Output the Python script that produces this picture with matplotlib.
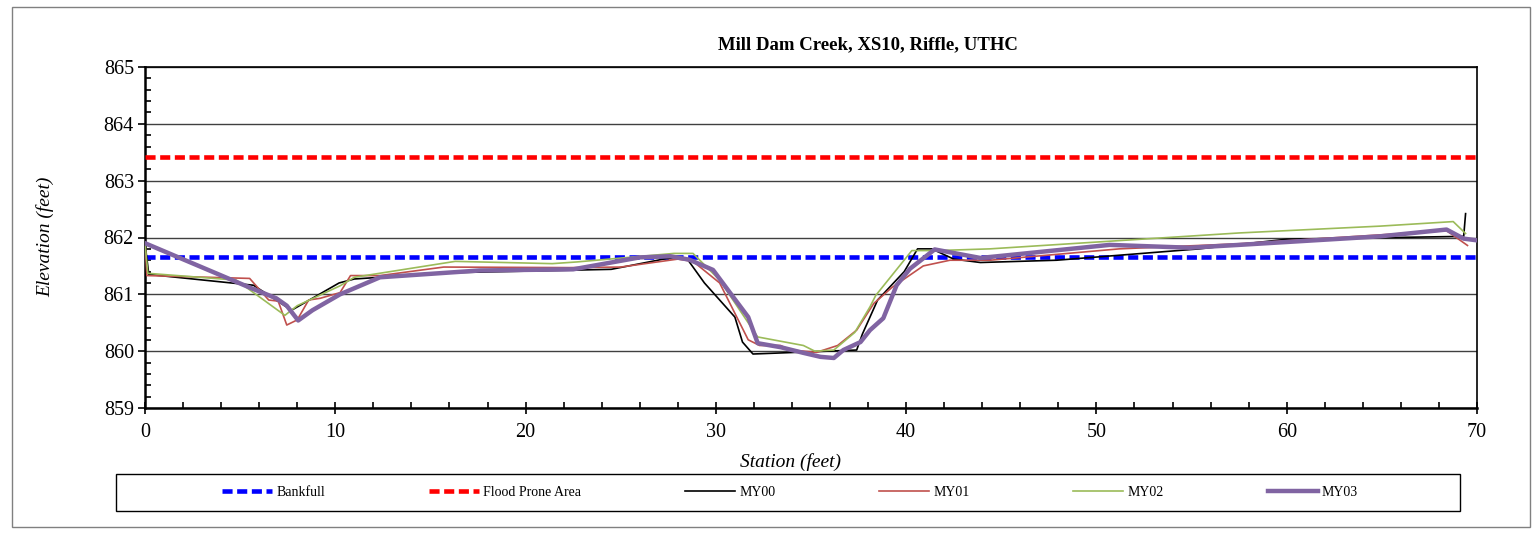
import matplotlib
matplotlib.use('Agg')
import matplotlib.pyplot as plt
from matplotlib.patches import Rectangle
from matplotlib.ticker import MultipleLocator

plt.rcParams['font.family'] = 'Liberation Serif'

# bankfull / flood prone elevations (feet)
bankfull_elev = 861.65
flood_elev    = 863.42

# cross section surveys: station (feet) and elevation (feet)
my00_sta  = [0, 0.2, 5.7, 7.7, 10.2, 11.0, 16.0, 24.5, 27.4, 28.5, 29.4, 31.0, 31.4, 31.95,
             37.4, 37.7, 38.5, 39.9, 40.6, 41.35, 42.5, 43.9, 47.9, 55.4, 60.0, 69.3, 69.4]
my00_elev = [861.90, 861.35, 861.16, 860.72, 861.20, 861.27, 861.38, 861.44, 861.63, 861.62,
             861.20, 860.60, 860.16, 859.95, 860.02, 860.30, 860.90, 861.40, 861.80, 861.80,
             861.62, 861.56, 861.60, 861.80, 861.97, 862.02, 862.42]

my01_sta  = [0, 0.1, 5.5, 6.5, 7.0, 7.45, 8.0, 8.6, 9.2, 10.25, 10.8, 12.35, 15.7, 22.3, 25.0,
             28.0, 28.8, 30.2, 31.1, 31.7, 32.3, 33.4, 33.9, 35.3, 36.4, 37.4, 38.3, 39.25,
             40.9, 42.3, 44.4, 51.2, 57.5, 68.4, 69.5]
my01_elev = [861.90, 861.33, 861.28, 860.90, 860.88, 860.46, 860.55, 860.90, 860.93, 861.03,
             861.33, 861.33, 861.48, 861.47, 861.48, 861.62, 861.58, 861.20, 860.60, 860.20,
             860.10, 860.10, 860.02, 859.98, 860.10, 860.37, 860.84, 861.12, 861.50, 861.60,
             861.60, 861.80, 861.89, 862.12, 861.86]

my02_sta  = [0, 0.15, 4.8, 7.35, 8.0, 10.25, 11.0, 16.3, 21.4, 22.7, 27.8, 28.8, 30.2, 32.2,
             34.6, 35.2, 36.2, 37.3, 38.1, 38.4, 40.3, 41.6, 44.4, 57.5, 64.9, 68.75, 69.4]
my02_elev = [861.90, 861.37, 861.25, 860.63, 860.80, 861.15, 861.30, 861.58, 861.54, 861.57,
             861.72, 861.72, 861.25, 860.25, 860.10, 860.00, 860.02, 860.33, 860.78, 860.98,
             861.77, 861.77, 861.80, 862.08, 862.20, 862.28, 862.07]

my03_sta  = [0, 5.5, 6.9, 7.45, 8.05, 8.8, 10.25, 12.35, 17.6, 22.5, 26.0, 27.6, 28.6, 29.85,
             30.85, 31.7, 32.2, 33.4, 34.6, 35.5, 36.2, 36.7, 37.6, 38.1, 38.8, 39.5, 40.2,
             41.5, 43.9, 50.7, 54.9, 57.5, 64.9, 68.4, 69.3, 70.0]
my03_elev = [861.90, 861.12, 860.93, 860.80, 860.54, 860.72, 861.00, 861.30, 861.42, 861.44,
             861.65, 861.67, 861.61, 861.43, 860.98, 860.60, 860.14, 860.07, 859.97, 859.90,
             859.88, 860.02, 860.16, 860.37, 860.58, 861.16, 861.45, 861.79, 861.64, 861.87,
             861.82, 861.87, 862.02, 862.14, 861.98, 861.95]

W, H = 1532, 549
fig = plt.figure(figsize=(W/100, H/100), dpi=100)
ax  = fig.add_axes([145/W, 1-408/H, (1477-145)/W, (408-67)/H])

# reference lines across the whole section
ax.axhline(bankfull_elev, color='#0000ff', lw=3.3, dashes=(2.2, 1.0), label='Bankfull', zorder=3)
ax.axhline(flood_elev,    color='#ff0000', lw=3.3, dashes=(2.2, 1.0), label='Flood Prone Area', zorder=3)

ax.plot(my00_sta, my00_elev, color='black',   lw=1.2, label='MY00', zorder=4)
ax.plot(my01_sta, my01_elev, color='#c0504d', lw=1.2, label='MY01', zorder=4)
ax.plot(my02_sta, my02_elev, color='#9bbb59', lw=1.2, label='MY02', zorder=4)
ax.plot(my03_sta, my03_elev, color='#8064a2', lw=3.2, label='MY03', zorder=5)

ax.set_xlim(0, 70)
ax.set_ylim(859, 865)
ax.xaxis.set_major_locator(MultipleLocator(10))
ax.xaxis.set_minor_locator(MultipleLocator(2))
ax.yaxis.set_major_locator(MultipleLocator(1))
ax.yaxis.set_minor_locator(MultipleLocator(0.2))
ax.grid(axis='y', which='major', color='#404040', lw=1.0)
ax.set_axisbelow(True)

ax.tick_params(axis='both', which='major', labelsize=14.5, width=1.2)
ax.tick_params(axis='y', which='major', direction='out', length=5, pad=3)
ax.tick_params(axis='x', which='major', direction='inout', length=9, pad=6)
ax.tick_params(axis='both', which='minor', direction='in', length=4, width=1.2)
for side in ['left', 'bottom']:
  ax.spines[side].set_linewidth(1.8)
for side in ['top', 'right']:
  ax.spines[side].set_linewidth(1.2)

fig.text(868/W, 1-45/H, 'Mill Dam Creek, XS10, Riffle, UTHC', ha='center', va='center',
         fontsize=13.5, fontweight='bold')
fig.text(45/W, 1-237/H, 'Elevation (feet)', ha='center', va='center', rotation=90,
         fontsize=14, fontstyle='italic')
fig.text(790/W, 1-462/H, 'Station (feet)', ha='center', va='center',
         fontsize=14, fontstyle='italic')

# legend box below the axis title
fig.add_artist(Rectangle((116/W, 1-511/H), (1460-116)/W, (511-474)/H, transform=fig.transFigure,
                         fill=False, edgecolor='black', lw=1.0))
ax.legend(loc='center', bbox_to_anchor=(222/W, 1-511/H, (1358-222)/W, (511-474)/H),
          bbox_transform=fig.transFigure, mode='expand', ncol=6, frameon=False,
          fontsize=10, handlelength=3.6, handletextpad=0.3, borderpad=0, borderaxespad=0)

# outer chart border
fig.add_artist(Rectangle((12/W, 1-527/H), (1530-12)/W, (527-7)/H, transform=fig.transFigure,
                         fill=False, edgecolor='#808080', lw=1.0))

plt.savefig('out.png', dpi=100)
plt.close()
